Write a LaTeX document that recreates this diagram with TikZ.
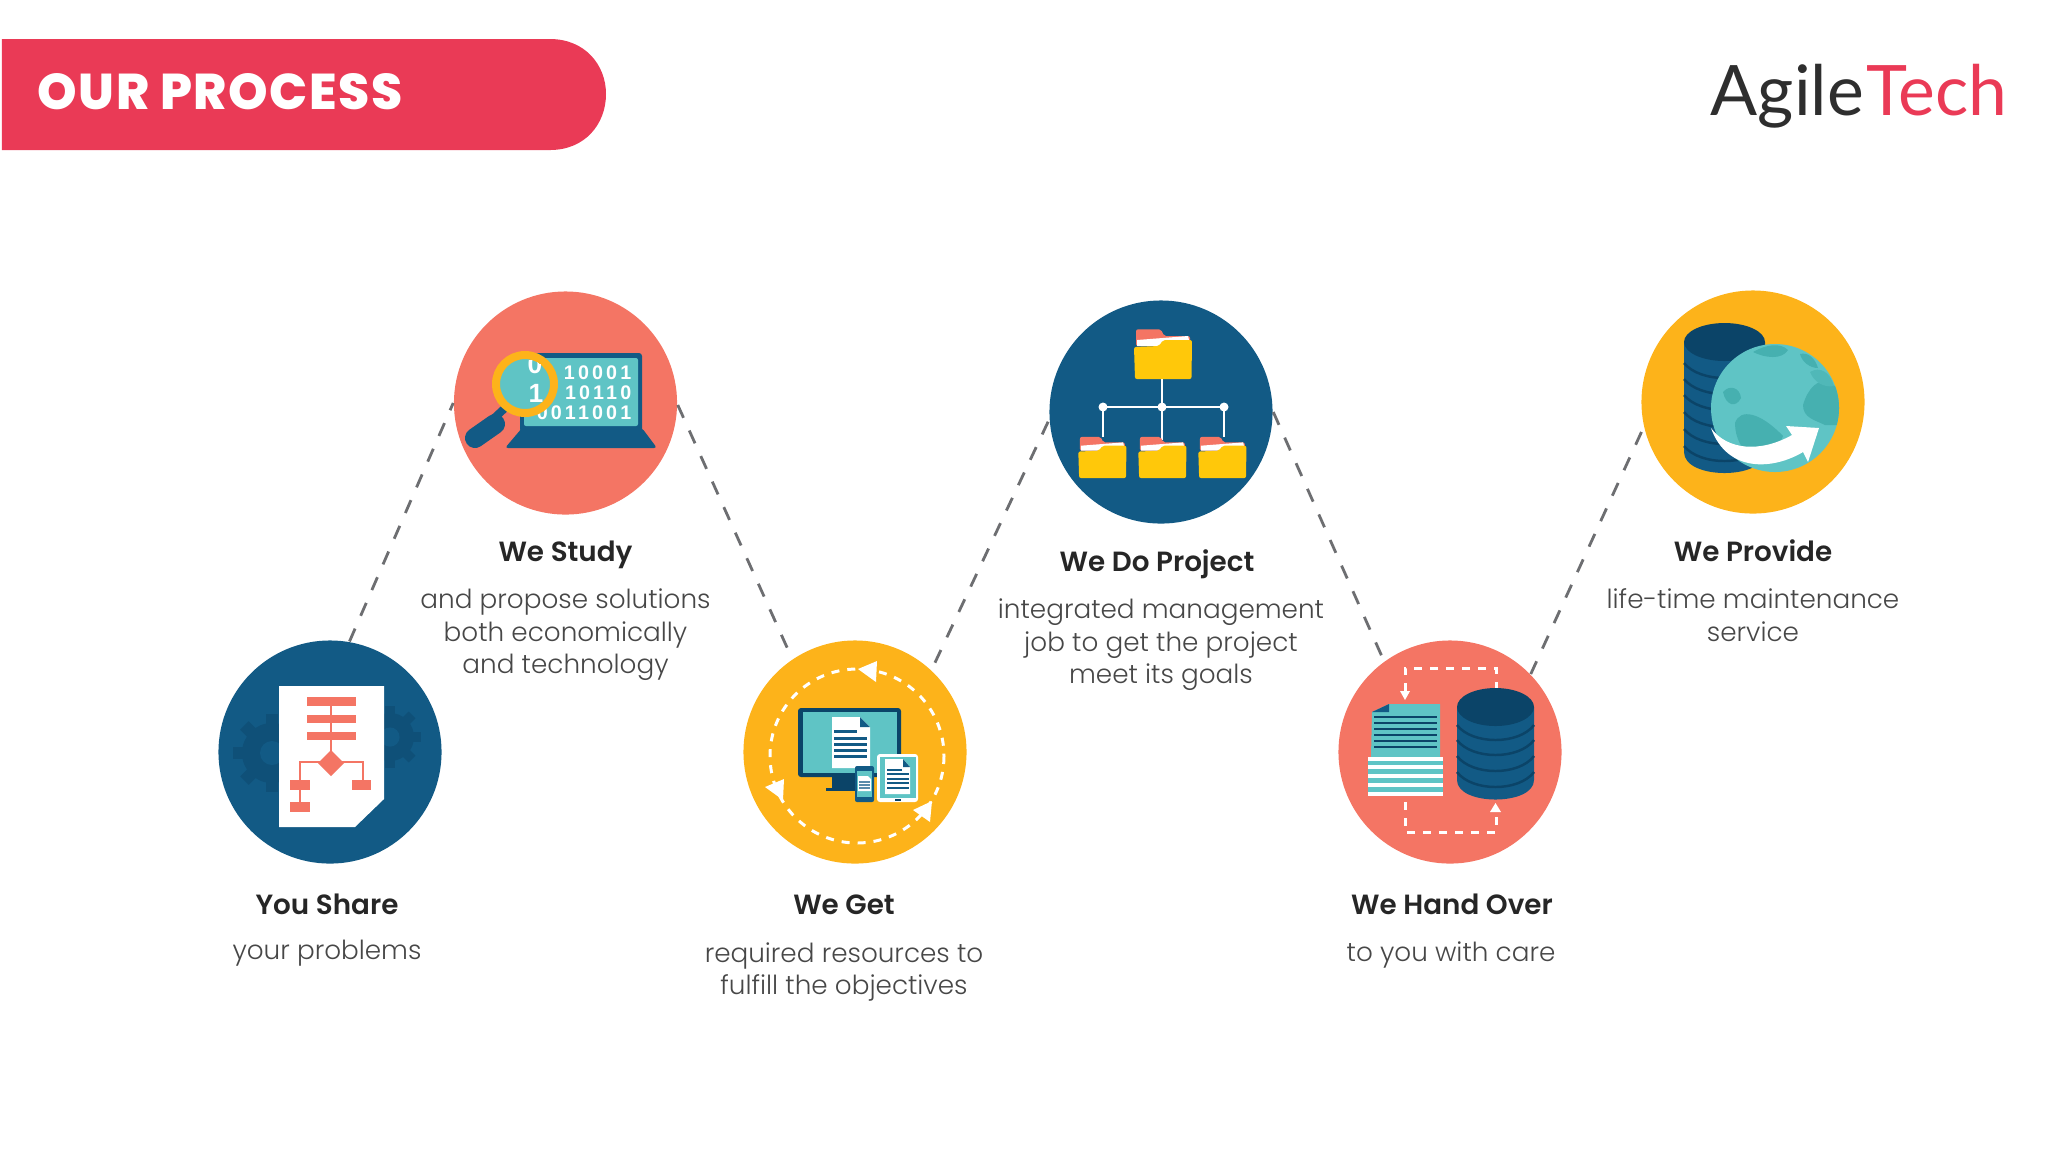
\documentclass[tikz,border=0pt]{standalone}
\usepackage{fontspec}
\setmainfont{Poppins Light}
\newfontfamily\headfont{Poppins SemiBold}
\newfontfamily\titlefont{Poppins ExtraBold}[LetterSpace=3]
\newfontfamily\logofont{Lato}
\newfontfamily\digitfont{Liberation Sans}[LetterSpace=16]
\usetikzlibrary{shapes}

\definecolor{navy}{HTML}{125A85}
\definecolor{navydark}{HTML}{0B4468}
\definecolor{salmon}{HTML}{F47564}
\definecolor{amber}{HTML}{FDB31A}
\definecolor{aqua}{HTML}{5FC4C5}
\definecolor{aquadark}{HTML}{46B0B0}
\definecolor{crimson}{HTML}{EA3A56}
\definecolor{folderyellow}{HTML}{FFC80A}
\definecolor{linegray}{HTML}{6D6E71}

\tikzset{
  bubble/.style={circle, minimum size=2.23cm, inner sep=0pt},
  linkline/.style={draw=linegray, line width=0.8pt, dash pattern=on 0.14cm off 0.14cm},
  heading/.style={text=black!85, text height=5.6pt, text depth=0pt, font=\headfont\fontsize{7.9}{9.3}\selectfont},
  caption/.style={text=black!72, align=center, font=\fontsize{7.47}{9.27}\selectfont},
  digits/.style={anchor=east, text=white, inner sep=0pt, font=\digitfont\bfseries\fontsize{5.6}{6}\selectfont},
  whitedash/.style={draw=white, line width=0.85pt, dash pattern=on 0.08cm off 0.08cm},
  folder/.pic={
    \draw [fill=salmon, draw=none, rounded corners=0.02cm] (2,6) -- (2,-10.7) -- (27,-10.7) -- (30,-4) -- (56,-4) -- (56,6) -- cycle;
    \draw [fill=white, draw=none] (3,6) -- (3,0) -- (54,-4) -- (55,0) -- (55,6) -- cycle;
    \draw [fill=folderyellow, draw=none, rounded corners=0.02cm] (0,7) -- (25,6) -- (29,0) -- (58,0) -- (57.5,39) -- (1,39) -- cycle;
  }
}

\begin{document}
\begin{tikzpicture}[x=0.01cm, y=-0.01cm]
\useasboundingbox (0,0) rectangle (2048,1153);

% Banner and logo
\draw [fill=crimson, draw=none] (2,39) -- (550,39) .. controls (585,39) and (606,65) .. (606,94) .. controls (606,124) and (585,150) .. (550,150) -- (2,150) -- cycle;
\node (title) [anchor=west, text=white, inner sep=0pt, font=\titlefont\fontsize{14.3}{16}\selectfont] at (37,92) {OUR PROCESS};
\node (logo) [anchor=base west, inner sep=0pt, font=\logofont\fontsize{19.8}{24}\selectfont] at (1710,115) {\textcolor{black!82}{Agile}\kern0.03em\textcolor{crimson}{Tech}};

% Circles
\node (share) [bubble, fill=navy] at (330,752) {};
\node (study) [bubble, fill=salmon] at (565.5,403) {};
\node (get) [bubble, fill=amber] at (855,752) {};
\node (project) [bubble, fill=navy] at (1161,412) {};
\node (handover) [bubble, fill=salmon] at (1450,752) {};
\node (provide) [bubble, fill=amber] at (1753,402) {};

% Dashed links
\draw [linkline] (share.80) -- (study.180);
\draw [linkline, shorten >=0.1cm] (study.-1) -- (get.124);
\draw [linkline, shorten <=0.08cm] (get.47) -- (project.184);
\draw [linkline, shorten >=0.05cm] (project.0) -- (handover.126);
\draw [linkline] (handover.44) -- (provide.193);

% You Share: gears
\foreach \gx/\gy/\gr in {272/753/30, 390/737/24} {
  \draw [fill=navydark!45!navy, draw=none] (\gx,\gy) circle (\gr);
  \foreach \ang in {0,45,...,315}
    \draw [draw=navydark!45!navy, line width=0.12cm*\gr/30] (\gx,\gy) -- ++(\ang:\gr*1.3);
  \draw [fill=navy, draw=none] (\gx,\gy) circle (\gr*0.4);
}
% You Share: sheet and chart
\draw [fill=white, draw=none] (279,686) -- (384,686) -- (384,799) -- (355,827) -- (279,827) -- cycle;
\draw [draw=salmon, line width=0.6pt] (331,706) -- (331,752);
\draw [draw=salmon, line width=0.6pt] (300,780) -- (300,762) -- (363,762) -- (363,780);
\draw [draw=salmon, line width=0.6pt] (300,790) -- (300,802);
\draw [fill=salmon, draw=none] (307,697) rectangle (356,706);
\draw [fill=salmon, draw=none] (307,715) rectangle (356,723);
\draw [fill=salmon, draw=none] (307,732) rectangle (356,740);
\draw [fill=salmon, draw=none] (331,750) -- (344,763) -- (331,776) -- (318,763) -- cycle;
\draw [fill=salmon, draw=none] (290,780) rectangle (310,790);
\draw [fill=salmon, draw=none] (352,780) rectangle (371,790);
\draw [fill=salmon, draw=none] (290,802) rectangle (310,812);

% We Study: laptop
\draw [fill=navy, draw=none, rounded corners=0.03cm] (520,353) rectangle (642,432);
\draw [fill=aqua, draw=none, rounded corners=0.02cm] (524,358) rectangle (638,426);
\draw [fill=navy, draw=none, rounded corners=0.03cm] (522,428) -- (642,428) -- (657,448) -- (505,448) -- cycle;
\node (digitsa) [digits] at (632,373) {10001};
\node (digitsb) [digits] at (632,393) {10110};
\node (digitsc) [digits] at (632,413) {0011001};
% We Study: magnifier
\draw [draw=navy, line width=0.08cm] (505,408) -- (490,422);
\draw [draw=navy, line width=0.2cm, line cap=round] (495,424) -- (475,438);
\draw [fill=aqua, draw=amber, line width=0.08cm] (525,384) circle (29);
\begin{scope}
  \clip (525,384) circle (25);
  \node (lensa) [text=white, inner sep=0pt, font=\digitfont\bfseries\fontsize{7.5}{8}\selectfont] at (535,364) {0};
  \node (lensb) [text=white, inner sep=0pt, font=\digitfont\bfseries\fontsize{7.5}{8}\selectfont] at (536,393) {1};
\end{scope}

% We Get: cycle
\draw [whitedash] (857,756) circle (87);
\draw [fill=white, draw=none] (858,669) -- (877,661) -- (876,682) -- cycle;
\draw [fill=white, draw=none] (765,787) -- (784,779) -- (783,800) -- cycle;
\draw [fill=white, draw=none] (932,801) -- (913,810) -- (930,822) -- cycle;
% We Get: monitor
\draw [fill=navydark, draw=none] (832,775) rectangle (855,788);
\draw [fill=navydark, draw=none] (826,788) rectangle (860,791);
\draw [fill=navydark, draw=none, rounded corners=0.03cm] (798,708) rectangle (901,777);
\draw [fill=aqua, draw=none] (803,712) rectangle (897,773);
\draw [fill=white, draw=none] (832,717) -- (860,717) -- (870,727) -- (870,768) -- (832,768) -- cycle;
\draw [fill=navy, draw=none] (860,717) -- (870,727) -- (860,727) -- cycle;
\draw [fill=navy, draw=none] (834,730) rectangle (857,733);
\foreach \ly in {737,743,749,755}
  \draw [fill=navy, draw=none] (834,\ly) rectangle (867,\ly+3);
% We Get: tablet
\draw [fill=white, draw=none, rounded corners=0.03cm] (877,754) rectangle (918,802);
\draw [fill=aqua, draw=none] (880,757) rectangle (916,798);
\draw [fill=white, draw=none] (885,759) -- (903,759) -- (910,767) -- (910,794) -- (885,794) -- cycle;
\draw [fill=navy, draw=none] (903,759) -- (910,767) -- (903,767) -- cycle;
\draw [fill=navy, draw=none] (887,769) rectangle (902,771);
\foreach \ly in {773,778,782,787}
  \draw [fill=navy, draw=none] (887,\ly) rectangle (909,\ly+2);
\draw [fill=navydark, draw=none] (895,798.5) rectangle (901,801);
% We Get: phone
\draw [fill=navy, draw=none, rounded corners=0.02cm] (855,766) rectangle (874,802);
\draw [fill=aqua, draw=none] (857,771) rectangle (872,797);
\draw [fill=white, draw=none] (858,776) -- (868,776) -- (871,779) -- (871,791) -- (858,791) -- cycle;
\foreach \ly in {781,784,787}
  \draw [fill=navy!70, draw=none] (859,\ly) rectangle (870,\ly+1.6);

% We Do Project: tree
\draw [draw=white, line width=0.75pt] (1162,378) -- (1162,440);
\draw [draw=white, line width=0.75pt] (1103,437) -- (1103,407) -- (1224,407) -- (1224,437);
\draw [fill=white, draw=none] (1103,407) circle (4.5);
\draw [fill=white, draw=none] (1162,407) circle (4.5);
\draw [fill=white, draw=none] (1224,407) circle (4.5);
\pic at (1134,340) {folder};
\pic [scale=0.83] at (1078.3,445.7) {folder};
\pic [scale=0.83] at (1138.3,445.7) {folder};
\pic [scale=0.83] at (1198.3,445.7) {folder};

% We Hand Over: paths
\draw [whitedash] (1405,691) -- (1405,668) -- (1496,668) -- (1496,688);
\draw [whitedash] (1405,802) -- (1405,832) -- (1496,832) -- (1496,812);
\draw [fill=white, draw=none] (1400,691) -- (1410,691) -- (1405,700) -- cycle;
\draw [fill=white, draw=none] (1490,812) -- (1501,812) -- (1495.5,803) -- cycle;
% We Hand Over: stack of sheets
\draw [fill=aqua, draw=none] (1372,712) -- (1389,704) -- (1440,704) -- (1440,757) -- (1371,757) -- cycle;
\draw [fill=navy, draw=none] (1372,712) -- (1389,704) -- (1389,712) -- cycle;
\foreach \ly in {716,722,728,734,740,746}
  \draw [fill=navydark, draw=none] (1374,\ly) rectangle (1437,\ly+2.4);
\draw [fill=white, draw=none] (1368,757) rectangle (1443,796);
\foreach \ly in {761,769.3,778.3,787.3}
  \draw [fill=aqua, draw=none] (1368,\ly) rectangle (1443,\ly+4.4);
% We Hand Over: database
\draw [fill=navy, draw=none] (1457,707) -- (1457,780) .. controls (1457,806) and (1534,806) .. (1534,780) -- (1534,707) -- cycle;
\foreach \ly in {725,740,756,772}
  \draw [draw=navydark, line width=0.7pt] (1457,\ly) .. controls (1472,\ly+20) and (1519,\ly+20) .. (1534,\ly);
\draw [fill=navydark, draw=none] (1495.5,707) ellipse [x radius=38.5, y radius=19];

% We Provide: database
\draw [fill=navy, draw=none] (1684,342) -- (1684,452) .. controls (1684,480) and (1765,480) .. (1765,452) -- (1765,342) -- cycle;
\foreach \ly in {363,379,395,412,429,446}
  \draw [draw=navydark, line width=0.7pt] (1684,\ly) .. controls (1700,\ly+20) and (1749,\ly+20) .. (1765,\ly);
\draw [fill=navydark, draw=none] (1724.5,342) ellipse [x radius=40.5, y radius=19];
% We Provide: globe
\draw [fill=aqua, draw=none] (1775,408) circle (64);
\begin{scope}
  \clip (1775,408) circle (64);
  % Africa
  \draw [fill=aquadark, draw=none] (1803,405) .. controls (1808,388) and (1818,378) .. (1830,382) -- (1845,395) -- (1840,425) -- (1825,425) .. controls (1815,420) and (1803,418) .. (1803,405) -- cycle;
  % South America
  \draw [fill=aquadark, draw=none] (1735,423) .. controls (1740,408) and (1760,412) .. (1783,436) .. controls (1778,450) and (1765,462) .. (1752,458) .. controls (1742,450) and (1735,438) .. (1735,423) -- cycle;
  % North America and the north
  \draw [fill=aquadark, draw=none] (1723,392) .. controls (1730,384) and (1740,388) .. (1741,398) .. controls (1736,408) and (1726,406) .. (1723,392) -- cycle;
  \draw [fill=aquadark, draw=none] (1753,352) .. controls (1765,345) and (1780,342) .. (1788,350) .. controls (1782,360) and (1765,358) .. (1753,352) -- cycle;
  \draw [fill=aquadark, draw=none] (1800,354) .. controls (1808,352) and (1815,358) .. (1818,368) .. controls (1810,368) and (1802,362) .. (1800,354) -- cycle;
  \draw [fill=aquadark!60!aqua, draw=none] (1810,372) .. controls (1820,366) and (1830,372) .. (1834,386) .. controls (1824,388) and (1814,382) .. (1810,372) -- cycle;
\end{scope}
% We Provide: arrow
\draw [fill=white, draw=none] (1711,428) .. controls (1727,450) and (1760,453) .. (1792,435) -- (1786,426) -- (1819,428) -- (1808,462) -- (1803,452) .. controls (1773,470) and (1727,473) .. (1711,428) -- cycle;

% Labels
\node (shareh) [heading] at (327,905) {You Share};
\node (sharet) [caption] at (327,953) {your problems};
\node (studyh) [heading] at (565.5,552) {We Study};
\node (studyt) [caption] at (565.5,635) {and propose solutions\\both economically\\and technology};
\node (geth) [heading] at (844,905) {We Get};
\node (gett) [caption] at (844,972) {required resources to\\fulfill the objectives};
\node (projecth) [heading] at (1157,562) {We Do Project};
\node (projectt) [caption] at (1161,645) {integrated management\\job to get the project\\meet its goals};
\node (handoverh) [heading] at (1452,905) {We Hand Over};
\node (handovert) [caption] at (1451,955) {to you with care};
\node (provideh) [heading] at (1753,552) {We Provide};
\node (providet) [caption] at (1753,615) {life-time maintenance\\service};

\end{tikzpicture}
\end{document}
